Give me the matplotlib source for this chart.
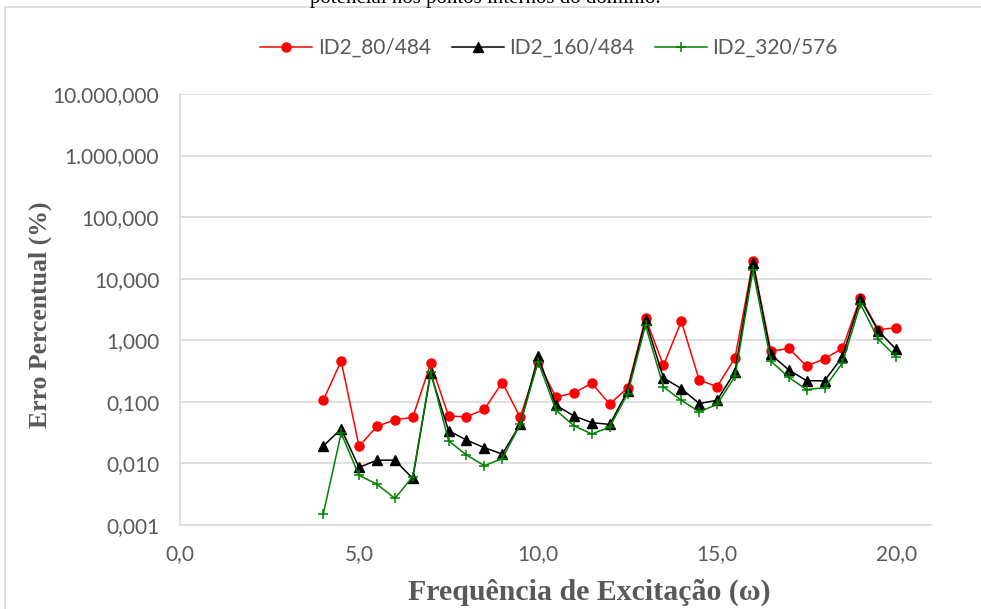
import matplotlib
matplotlib.use("Agg")
import matplotlib.pyplot as plt
from matplotlib.patches import Rectangle
from matplotlib.ticker import FuncFormatter, FixedLocator

freq = [4.0, 4.5, 5.0, 5.5, 6.0, 6.5, 7.0, 7.5, 8.0, 8.5, 9.0, 9.5, 10.0,
        10.5, 11.0, 11.5, 12.0, 12.5, 13.0, 13.5, 14.0, 14.5, 15.0, 15.5,
        16.0, 16.5, 17.0, 17.5, 18.0, 18.5, 19.0, 19.5, 20.0]

id2_80 = [0.106, 0.46, 0.019, 0.040, 0.051, 0.056, 0.42, 0.059, 0.057, 0.076,
          0.206, 0.056, 0.44, 0.119, 0.14, 0.20, 0.092, 0.169, 2.3, 0.39,
          2.03, 0.225, 0.177, 0.52, 19.1, 0.66, 0.74, 0.38, 0.50, 0.74,
          4.9, 1.49, 1.60]

id2_160 = [0.0191, 0.0365, 0.0086, 0.0113, 0.0113, 0.0057, 0.29, 0.034, 0.024,
           0.018, 0.0142, 0.043, 0.55, 0.088, 0.059, 0.046, 0.043, 0.15, 2.11,
           0.245, 0.164, 0.094, 0.106, 0.31, 17.9, 0.59, 0.33, 0.22, 0.22,
           0.54, 4.7, 1.42, 0.71]

id2_320 = [0.0015, 0.031, 0.0064, 0.0046, 0.0027, 0.0061, 0.31, 0.0233, 0.0137,
           0.0092, 0.012, 0.043, 0.45, 0.073, 0.041, 0.030, 0.039, 0.136, 1.75,
           0.175, 0.106, 0.069, 0.091, 0.26, 13.6, 0.46, 0.25, 0.158, 0.17,
           0.43, 3.9, 1.04, 0.54]

labels = ["ID2_80/484", "ID2_160/484", "ID2_320/576"]

gray = "#595959"
grid = "#d9d9d9"

fig = plt.figure(figsize=(9.81, 6.09), dpi=100)
ax = fig.add_axes([180 / 981, 1 - 525 / 609, (932 - 180) / 981, (525 - 94) / 609])

# outer chart border (cut by the page edge like in the original)
fig.patches.append(Rectangle((5 / 981, -0.05), 1.0, 1 - 7 / 609 + 0.05,
                             transform=fig.transFigure, fill=False,
                             edgecolor=grid, linewidth=1.2))
# caption of the document, mostly cut off at the top
fig.text(310 / 981, 1 - 3 / 609, "potencial nos pontos internos do domínio.",
         ha="left", va="baseline", fontsize=15, family="Liberation Serif")

ax.plot(freq, id2_80, color="red", marker="o", markersize=6.5, linewidth=1.1,
        label=labels[0])
ax.plot(freq, id2_160, color="black", marker="^", markersize=6.5, linewidth=1.1,
        label=labels[1])
ax.plot(freq, id2_320, color="green", marker="+", markersize=7, markeredgewidth=1.1,
        linewidth=1.1, label=labels[2])

ax.set_yscale("log")
ax.set_ylim(0.001, 10000)
ax.set_xlim(0, 21)
ax.yaxis.set_major_locator(FixedLocator([10.0 ** k for k in range(-3, 5)]))
ax.yaxis.set_minor_locator(FixedLocator([]))
ax.set_xticks([0, 5, 10, 15, 20])


def br_fmt(dec):
    def f(v, pos):
        s = f"{v:,.{dec}f}"
        return s.replace(",", "X").replace(".", ",").replace("X", ".")
    return FuncFormatter(f)


ax.yaxis.set_major_formatter(br_fmt(3))
ax.xaxis.set_major_formatter(br_fmt(1))

ax.grid(True, axis="y", color=grid, linewidth=1.2)
ax.set_axisbelow(True)
for side in ["top", "right"]:
    ax.spines[side].set_visible(False)
for side in ["left", "bottom"]:
    ax.spines[side].set_color(grid)
    ax.spines[side].set_linewidth(1.2)

ax.tick_params(length=0, labelsize=15, labelcolor=gray)
ax.tick_params(axis="y", pad=15)
ax.tick_params(axis="x", pad=14)
for t in ax.get_xticklabels() + ax.get_yticklabels():
    t.set_family("Lato")

ax.set_xlabel("Frequência de Excitação (ω)", fontsize=21.5, fontweight="bold",
              color=gray, family="Liberation Serif", va="center")
ax.xaxis.set_label_coords((589 - 180) / 752, -(592 - 525) / 431)
ax.set_ylabel("Erro Percentual (%)", fontsize=18.5, fontweight="bold",
              color=gray, family="Liberation Serif", va="center")
ax.yaxis.set_label_coords((40 - 180) / 752, (525 - 315) / 431)

ax.legend(loc="center", bbox_to_anchor=(549 / 981, 1 - 48 / 609),
          bbox_transform=fig.transFigure, ncol=3, frameon=False,
          prop={"family": "Lato", "size": 15}, labelcolor=gray,
          handlelength=2.5, columnspacing=1.0, handletextpad=0.25)

fig.savefig("out.png", dpi=100)
